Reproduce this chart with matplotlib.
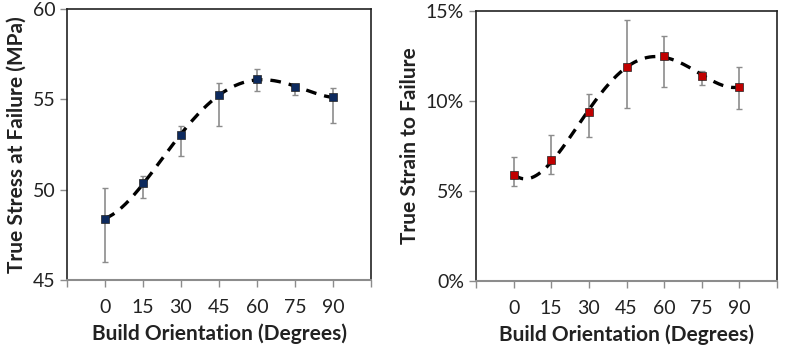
import numpy as np
import matplotlib
matplotlib.use("Agg")
import matplotlib.pyplot as plt
from matplotlib.ticker import FuncFormatter, FixedLocator

plt.rcParams['font.family'] = ['Lato', 'DejaVu Sans']

orientation = [0, 15, 30, 45, 60, 75, 90]
stress = [48.4, 50.35, 53.03, 55.24, 56.11, 55.70, 55.11]
stress_low = [46.0, 49.52, 51.86, 53.54, 55.48, 55.24, 53.67]
stress_high = [50.07, 50.77, 53.54, 55.89, 56.66, 55.79, 55.61]
strain = [5.91, 6.70, 9.39, 11.91, 12.5, 11.39, 10.80]
strain_low = [5.30, 5.93, 8.0, 9.59, 10.80, 10.89, 9.54]
strain_high = [6.91, 8.09, 10.41, 14.5, 13.61, 11.69, 11.91]

fig = plt.figure(figsize=(8, 3.47), dpi=100)
ax1 = fig.add_axes([67/800, 1 - 280/347, (371-67)/800, (280-9)/347])
ax2 = fig.add_axes([476/800, 1 - 281/347, (777-476)/800, (281-11)/347])

def draw(ax, y, lo, hi, color, deg):
    x = np.array(orientation, float)
    y = np.array(y)
    err = [y - np.array(lo), np.array(hi) - y]
    ax.errorbar(x, y, yerr=err, fmt='none', ecolor='#8c8c8c', elinewidth=1.2,
                capsize=2.5, capthick=1, zorder=2)
    coef = np.polyfit(x, y, deg)
    xs = np.linspace(0, 90, 300)
    ax.plot(xs, np.polyval(coef, xs), color='black', lw=2.4,
            dashes=(3.2, 2.4), zorder=3)
    ax.plot(x, y, 's', color=color, markersize=5.8, markeredgecolor='#222222',
            markeredgewidth=0.5, zorder=4)
    ax.set_xlim(-15, 105)
    ax.xaxis.set_major_locator(FixedLocator(np.arange(-15, 106, 15)))
    ax.xaxis.set_major_formatter(FuncFormatter(
        lambda v, p: f"{int(round(v))}" if 0 <= v <= 90 else ""))
    for s in ['top', 'right', 'left']:
        ax.spines[s].set_color('#222222')
        ax.spines[s].set_linewidth(1.2)
    ax.spines['bottom'].set_color('#8c8c8c')
    ax.spines['bottom'].set_linewidth(1.5)
    ax.tick_params(axis='both', direction='out', length=5, color='#8c8c8c',
                   labelsize=14, labelcolor='#222222', width=1)
    ax.tick_params(axis='x', pad=9)
    ax.set_xlabel('Build Orientation (Degrees)', fontsize=15, fontweight='bold',
                  color='#222222', labelpad=5)

draw(ax1, stress, stress_low, stress_high, '#0d2a5e', 4)
ax1.set_ylim(45, 60)
ax1.set_yticks([45, 50, 55, 60])
ax1.set_ylabel('True Stress at Failure (MPa)', fontsize=15, fontweight='bold',
               color='#222222', labelpad=4)

draw(ax2, strain, strain_low, strain_high, '#c00000', 4)
ax2.set_ylim(0, 15)
ax2.set_yticks([0, 5, 10, 15])
ax2.yaxis.set_major_formatter(FuncFormatter(lambda v, p: f"{int(v)}%"))
ax2.set_ylabel('True Strain to Failure', fontsize=15, fontweight='bold',
               color='#222222', labelpad=4)

fig.savefig('out.png', dpi=100)
